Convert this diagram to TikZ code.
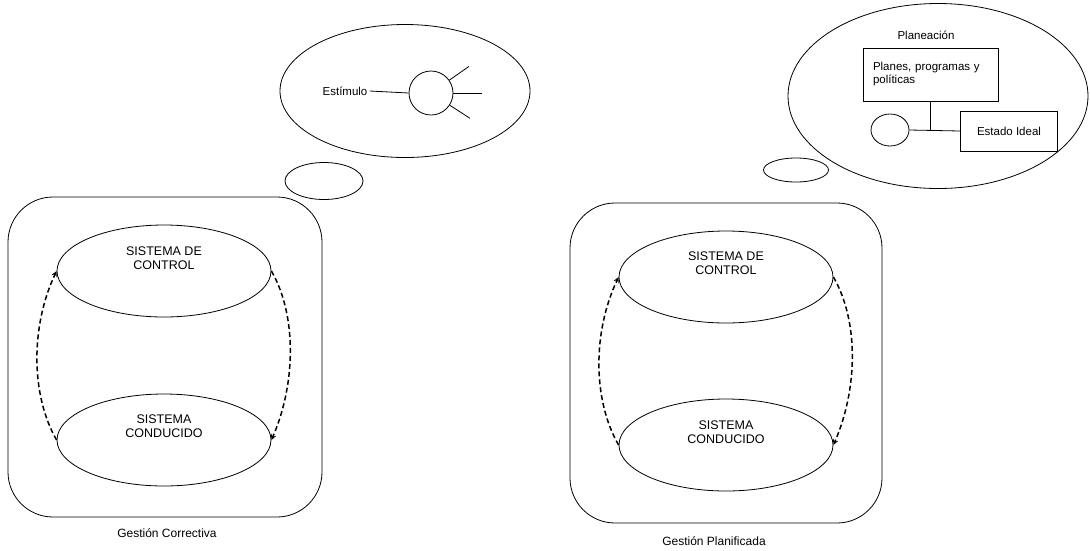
\documentclass[tikz,border=0pt]{standalone}
\usepackage{fontspec}
\setmainfont{Liberation Sans}
\usepackage{tikz}
\usetikzlibrary{shapes,arrows,calc,positioning}
\tikzstyle{feedback} = [line width=1.5pt, dash pattern=on 5pt off 3pt, ->, >=stealth]

\begin{document}
\begin{tikzpicture}[x=1pt,y=-1pt,line width=0.8pt]
\tikzset{panel/.style={draw,rounded corners=45pt,inner sep=0pt},
  oval/.style={draw,ellipse,inner sep=0pt},
  box/.style={draw,rectangle,inner sep=0pt},
  txt/.style={font=\fontsize{11.5}{13}\selectfont,inner sep=2pt},
  caps/.style={font=\fontsize{12.5}{13.5}\selectfont,align=center}}
\useasboundingbox (0,0) rectangle (1090,550);

% gestion correctiva
\node[panel,minimum width=314,minimum height=320] (panL) at (165,357) {};
\node[oval,minimum width=214,minimum height=92,
  label={[caps,yshift=13pt]center:SISTEMA DE\\CONTROL}] (ctlL) at (164,271) {};
\node[oval,minimum width=214,minimum height=92,
  label={[caps,yshift=14pt]center:SISTEMA\\CONDUCIDO}] (conL) at (164,440) {};
\draw[feedback] (conL.west) .. controls +(-26,-45) and +(-26,55) .. (ctlL.west);
\draw[feedback] (ctlL.east) .. controls +(26,45) and +(24,-55) .. (conL.east);
\node[txt,font=\fontsize{12}{13}\selectfont] (gcL) at (167,533) {Gestión Correctiva};

\node[oval,minimum width=78,minimum height=37] (bubL) at (324,181) {};
\node[oval,minimum width=250,minimum height=133] (thinkL) at (405,91) {};
\node[draw,circle,inner sep=0pt,minimum size=44] (stim) at (431,93) {};
\node[txt] (estL) at (345,91) {Estímulo};
\draw (estL.east) -- (stim.west);
\foreach \a/\l in {35/24,0/29,-33/24}
  \draw (stim.\a) -- +(\a:\l pt);

% gestion planificada
\node[panel,minimum width=312,minimum height=320] (panR) at (726,363) {};
\node[oval,minimum width=214,minimum height=92,
  label={[caps,yshift=14pt]center:SISTEMA DE\\CONTROL}] (ctlR) at (726,277) {};
\node[oval,minimum width=214,minimum height=92,
  label={[caps,yshift=13pt]center:SISTEMA\\CONDUCIDO}] (conR) at (726,445) {};
\draw[feedback] (conR.west) .. controls +(-26,-45) and +(-26,55) .. (ctlR.west);
\draw[feedback] (ctlR.east) .. controls +(26,45) and +(24,-55) .. (conR.east);
\node[txt,font=\fontsize{12}{13}\selectfont] (gcR) at (714,541) {Gestión Planificada};

\node[oval,minimum width=65,minimum height=24] (bubR) at (796,170) {};
\node[oval,minimum width=300,minimum height=185] (thinkR) at (938,96) {};
\node[txt] (plan) at (926,35) {Planeación};
\node[box,txt,minimum width=135,minimum height=53,text width=115,inner xsep=10pt,
  align=left] (pp) at (930.5,74.5) {Planes, programas y\\políticas};
\node[oval,minimum width=38,minimum height=32] (goal) at (890,130) {};
\node[box,txt,minimum width=97,minimum height=40] (ideal) at (1009,131) {Estado Ideal};
\coordinate (jn) at (pp.south |- ideal.west);
\draw (goal.east) -- (ideal.west);
\draw (pp.south) -- (jn);

\end{tikzpicture}
\end{document}
